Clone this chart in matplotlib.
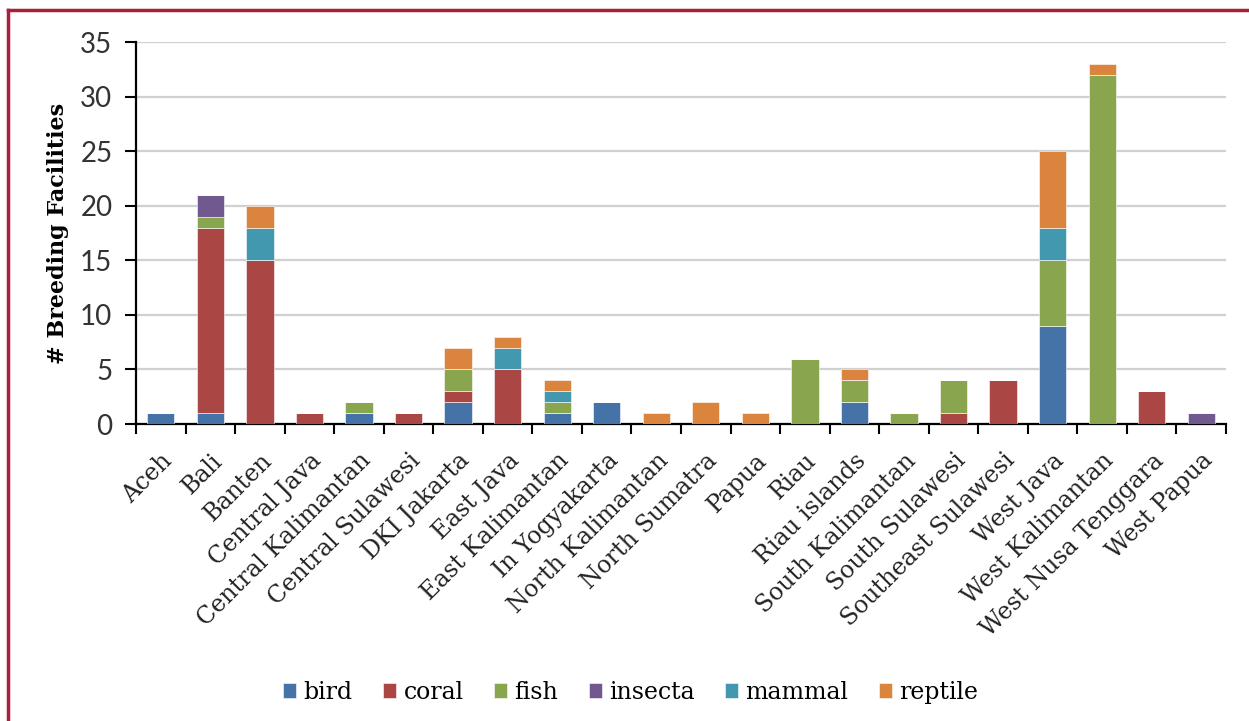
import numpy as np
import matplotlib
matplotlib.use("Agg")
import matplotlib.pyplot as plt
from matplotlib.lines import Line2D
from matplotlib.ticker import FixedLocator, NullFormatter

provinces = ["Aceh", "Bali", "Banten", "Central Java", "Central Kalimantan",
             "Central Sulawesi", "DKI Jakarta", "East Java", "East Kalimantan",
             "In Yogyakarta", "North Kalimantan", "North Sumatra", "Papua", "Riau",
             "Riau islands", "South Kalimantan", "South Sulawesi",
             "Southeast Sulawesi", "West Java", "West Kalimantan",
             "West Nusa Tenggara", "West Papua"]

bird    = [1, 1, 0, 0, 1, 0, 2, 0, 1, 2, 0, 0, 0, 0, 2, 0, 0, 0, 9, 0, 0, 0]
coral   = [0, 17, 15, 1, 0, 1, 1, 5, 0, 0, 0, 0, 0, 0, 0, 0, 1, 4, 0, 0, 3, 0]
fish    = [0, 1, 0, 0, 1, 0, 2, 0, 1, 0, 0, 0, 0, 6, 2, 1, 3, 0, 6, 32, 0, 0]
insecta = [0, 2, 0, 0, 0, 0, 0, 0, 0, 0, 0, 0, 0, 0, 0, 0, 0, 0, 0, 0, 0, 1]
mammal  = [0, 0, 3, 0, 0, 0, 0, 2, 1, 0, 0, 0, 0, 0, 0, 0, 0, 0, 3, 0, 0, 0]
reptile = [0, 0, 2, 0, 0, 0, 2, 1, 1, 0, 1, 2, 1, 0, 1, 0, 0, 0, 7, 1, 0, 0]

series = [("bird", bird, "#4572A7"), ("coral", coral, "#AA4643"),
          ("fish", fish, "#89A54E"), ("insecta", insecta, "#71588F"),
          ("mammal", mammal, "#4198AF"), ("reptile", reptile, "#DB843D")]

serif = ["DejaVu Serif"]
sans = ["Lato", "DejaVu Sans"]

fig = plt.figure(figsize=(12.49, 7.21), dpi=100)
ax = fig.add_axes([0.1089, 0.4119, 0.8727, 0.5298])

x = np.arange(len(provinces))
bottom = np.zeros(len(provinces))
handles = []
for name, vals, color in series:
    vals = np.array(vals, dtype=float)
    b = ax.bar(x, vals, width=0.55, bottom=bottom, color=color,
               edgecolor="white", linewidth=0.4, label=name, zorder=3)
    bottom += vals
    handles.append(b)

ax.set_xlim(-0.5, len(provinces) - 0.5)
ax.set_ylim(0, 35)
ax.set_yticks(range(0, 36, 5))
ax.yaxis.grid(True, color="#D0D0D0", linewidth=1.6, zorder=0)
ax.set_axisbelow(True)

for s in ("top", "right"):
    ax.spines[s].set_visible(False)
ax.spines["left"].set_linewidth(1.6)
ax.spines["bottom"].set_linewidth(1.6)

ax.tick_params(axis="y", length=8, width=1.5, pad=9, labelsize=20)
for lab in ax.get_yticklabels():
    lab.set_family(sans)
    lab.set_color("#333333")

ax.set_xticks(x)
ax.set_xticklabels(provinces, rotation=45, ha="right", rotation_mode="anchor",
                   family=serif, fontsize=17, color="#222222")
ax.tick_params(axis="x", which="major", length=0, pad=18)
ax.xaxis.set_minor_locator(FixedLocator(np.arange(-0.5, len(provinces), 1.0)))
ax.xaxis.set_minor_formatter(NullFormatter())
ax.tick_params(axis="x", which="minor", length=7, width=1.5)

ax.set_ylabel("# Breeding Facilities", family=serif, fontweight="bold",
              fontsize=16, labelpad=8)

fig.legend(handles=handles, labels=[s[0] for s in series], loc="center",
           bbox_to_anchor=(0.505, 0.04), ncol=6, frameon=False,
           prop={"family": serif, "size": 17}, handlelength=0.55,
           handleheight=0.6, handletextpad=0.3, columnspacing=1.3)

# red frame (left and top visible)
frame_color = "#A8203A"
fig.add_artist(Line2D([8 / 1249, 8 / 1249], [0, 1 - 10 / 721],
                      color=frame_color, linewidth=2.5, transform=fig.transFigure))
fig.add_artist(Line2D([8 / 1249, 1], [1 - 10 / 721, 1 - 10 / 721],
                      color=frame_color, linewidth=2.5, transform=fig.transFigure))

fig.savefig("out.png", dpi=100)
